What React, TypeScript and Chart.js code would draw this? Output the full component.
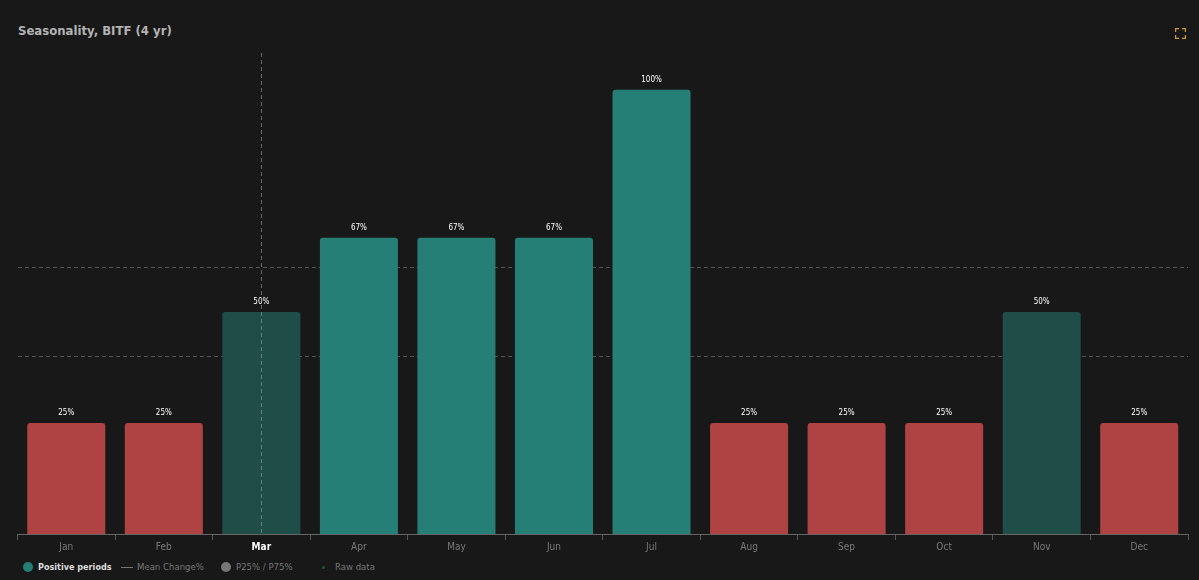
import React, { useEffect, useRef } from "react";
import { Chart, registerables } from "chart.js";

Chart.register(...registerables);

const months = ["Jan", "Feb", "Mar", "Apr", "May", "Jun", "Jul", "Aug", "Sep", "Oct", "Nov", "Dec"];
const positivePct = [25, 25, 50, 66.7, 66.7, 66.7, 100, 25, 25, 25, 50, 25];
const gridLines = [40, 60];
const highlightIndex = 2;

const RED = "#af4242";
const TEAL = "#267f76";
const DARK_TEAL = "#1f4d48";
const FONT = "'DejaVu Sans Condensed', 'DejaVu Sans', Verdana, sans-serif";

function barColor(v: number) {
  if (v < 50) return RED;
  if (v === 50) return DARK_TEAL;
  return TEAL;
}

const labelsPlugin = {
  id: "valueLabels",
  afterDatasetsDraw(chart: any) {
    const ctx = chart.ctx;
    const meta = chart.getDatasetMeta(0);
    ctx.save();
    ctx.font = `8px ${FONT}`;
    ctx.fillStyle = "#ffffff";
    ctx.textAlign = "center";
    ctx.textBaseline = "bottom";
    meta.data.forEach((el: any, i: number) => {
      ctx.fillText(Math.round(positivePct[i]) + "%", el.x, el.y - 6);
    });
    ctx.restore();
  },
};

const crosshairPlugin = {
  id: "crosshair",
  afterDatasetsDraw(chart: any) {
    const ctx = chart.ctx;
    const x = chart.scales.x.getPixelForValue(highlightIndex);
    const { top, bottom } = chart.chartArea;
    ctx.save();
    ctx.strokeStyle = "rgba(160,160,160,0.6)";
    ctx.lineWidth = 1;
    ctx.setLineDash([4, 3]);
    ctx.beginPath();
    ctx.moveTo(Math.round(x) + 0.5, top);
    ctx.lineTo(Math.round(x) + 0.5, bottom);
    ctx.stroke();
    ctx.restore();
  },
};

export default function App() {
  const ref = useRef<HTMLCanvasElement>(null);
  useEffect(() => {
    document.body.style.margin = "0";
    document.body.style.background = "#181818";
    const chart = new Chart(ref.current!, {
      type: "bar",
      data: {
        labels: months,
        datasets: [
          {
            data: positivePct,
            backgroundColor: positivePct.map(barColor),
            borderRadius: { topLeft: 3, topRight: 3, bottomLeft: 0, bottomRight: 0 },
            borderSkipped: false,
            categoryPercentage: 0.8,
            barPercentage: 1,
          },
        ],
      },
      options: {
        animation: false,
        responsive: false,
        maintainAspectRatio: false,
        layout: { padding: { left: 17.5, right: 11, top: 53, bottom: 0 } },
        plugins: { legend: { display: false }, tooltip: { enabled: false } },
        scales: {
          x: {
            grid: { display: true, drawOnChartArea: false, tickLength: 6, color: "#555", offset: true },
            border: { display: true, color: "#666" },
            ticks: {
              color: (c: any) => (c.index === highlightIndex ? "#ffffff" : "#7a7a7a"),
              font: (c: any) => ({ family: FONT, size: 10, weight: c.index === highlightIndex ? "bold" : "normal" }),
              padding: 1,
            },
          },
          y: {
            min: 0,
            max: 108.3,
            afterBuildTicks: (axis: any) => {
              axis.ticks = gridLines.map((v) => ({ value: v }));
            },
            ticks: { display: false },
            border: { display: false, dash: [4, 3] },
            grid: { color: "#555", drawTicks: false, tickLength: 0, lineWidth: 1 },
          } as any,
        },
      },
      plugins: [labelsPlugin, crosshairPlugin],
    });
    return () => chart.destroy();
  }, []);

  const legendText: React.CSSProperties = { position: "absolute", top: 561, fontFamily: FONT, fontSize: 9.5, color: "#777", whiteSpace: "nowrap", lineHeight: "12px" };

  return (
    <div style={{ position: "fixed", left: 0, top: 0, width: 1199, height: 580, background: "#181818", overflow: "hidden" }}>
      <div style={{ position: "absolute", left: 18, top: 23, fontFamily: FONT, fontWeight: "bold", fontSize: 13, color: "#b3b3b3" }}>
        Seasonality, BITF (4 yr)
      </div>
      <div style={{ position: "absolute", left: 1175, top: 25, width: 11, height: 11 }}>
        <svg width="11" height="11" viewBox="0 0 11 11">
          <path d="M0.5 4V0.5H4 M7 0.5H10.5V4 M10.5 7V10.5H7 M4 10.5H0.5V7" stroke="#d49a30" strokeWidth="1.4" fill="none" />
        </svg>
      </div>
      <canvas ref={ref} width={1199} height={554} style={{ position: "absolute", left: 0, top: 0, width: 1199, height: 554 }} />
      <span style={{ position: "absolute", left: 23, top: 562, width: 10, height: 10, borderRadius: 5, background: TEAL }} />
      <span style={{ ...legendText, left: 38, color: "#dddddd", fontWeight: "bold", fontSize: 9 }}>Positive periods</span>
      <span style={{ position: "absolute", left: 121, top: 567, width: 12, height: 1, background: "#777" }} />
      <span style={{ ...legendText, left: 137 }}>Mean Change%</span>
      <span style={{ position: "absolute", left: 221, top: 562, width: 10, height: 10, borderRadius: 5, background: "#777" }} />
      <span style={{ ...legendText, left: 236 }}>P25% / P75%</span>
      <span style={{ position: "absolute", left: 322, top: 566, width: 3, height: 3, borderRadius: 2, background: "#1f5a3a" }} />
      <span style={{ ...legendText, left: 335 }}>Raw data</span>
    </div>
  );
}
